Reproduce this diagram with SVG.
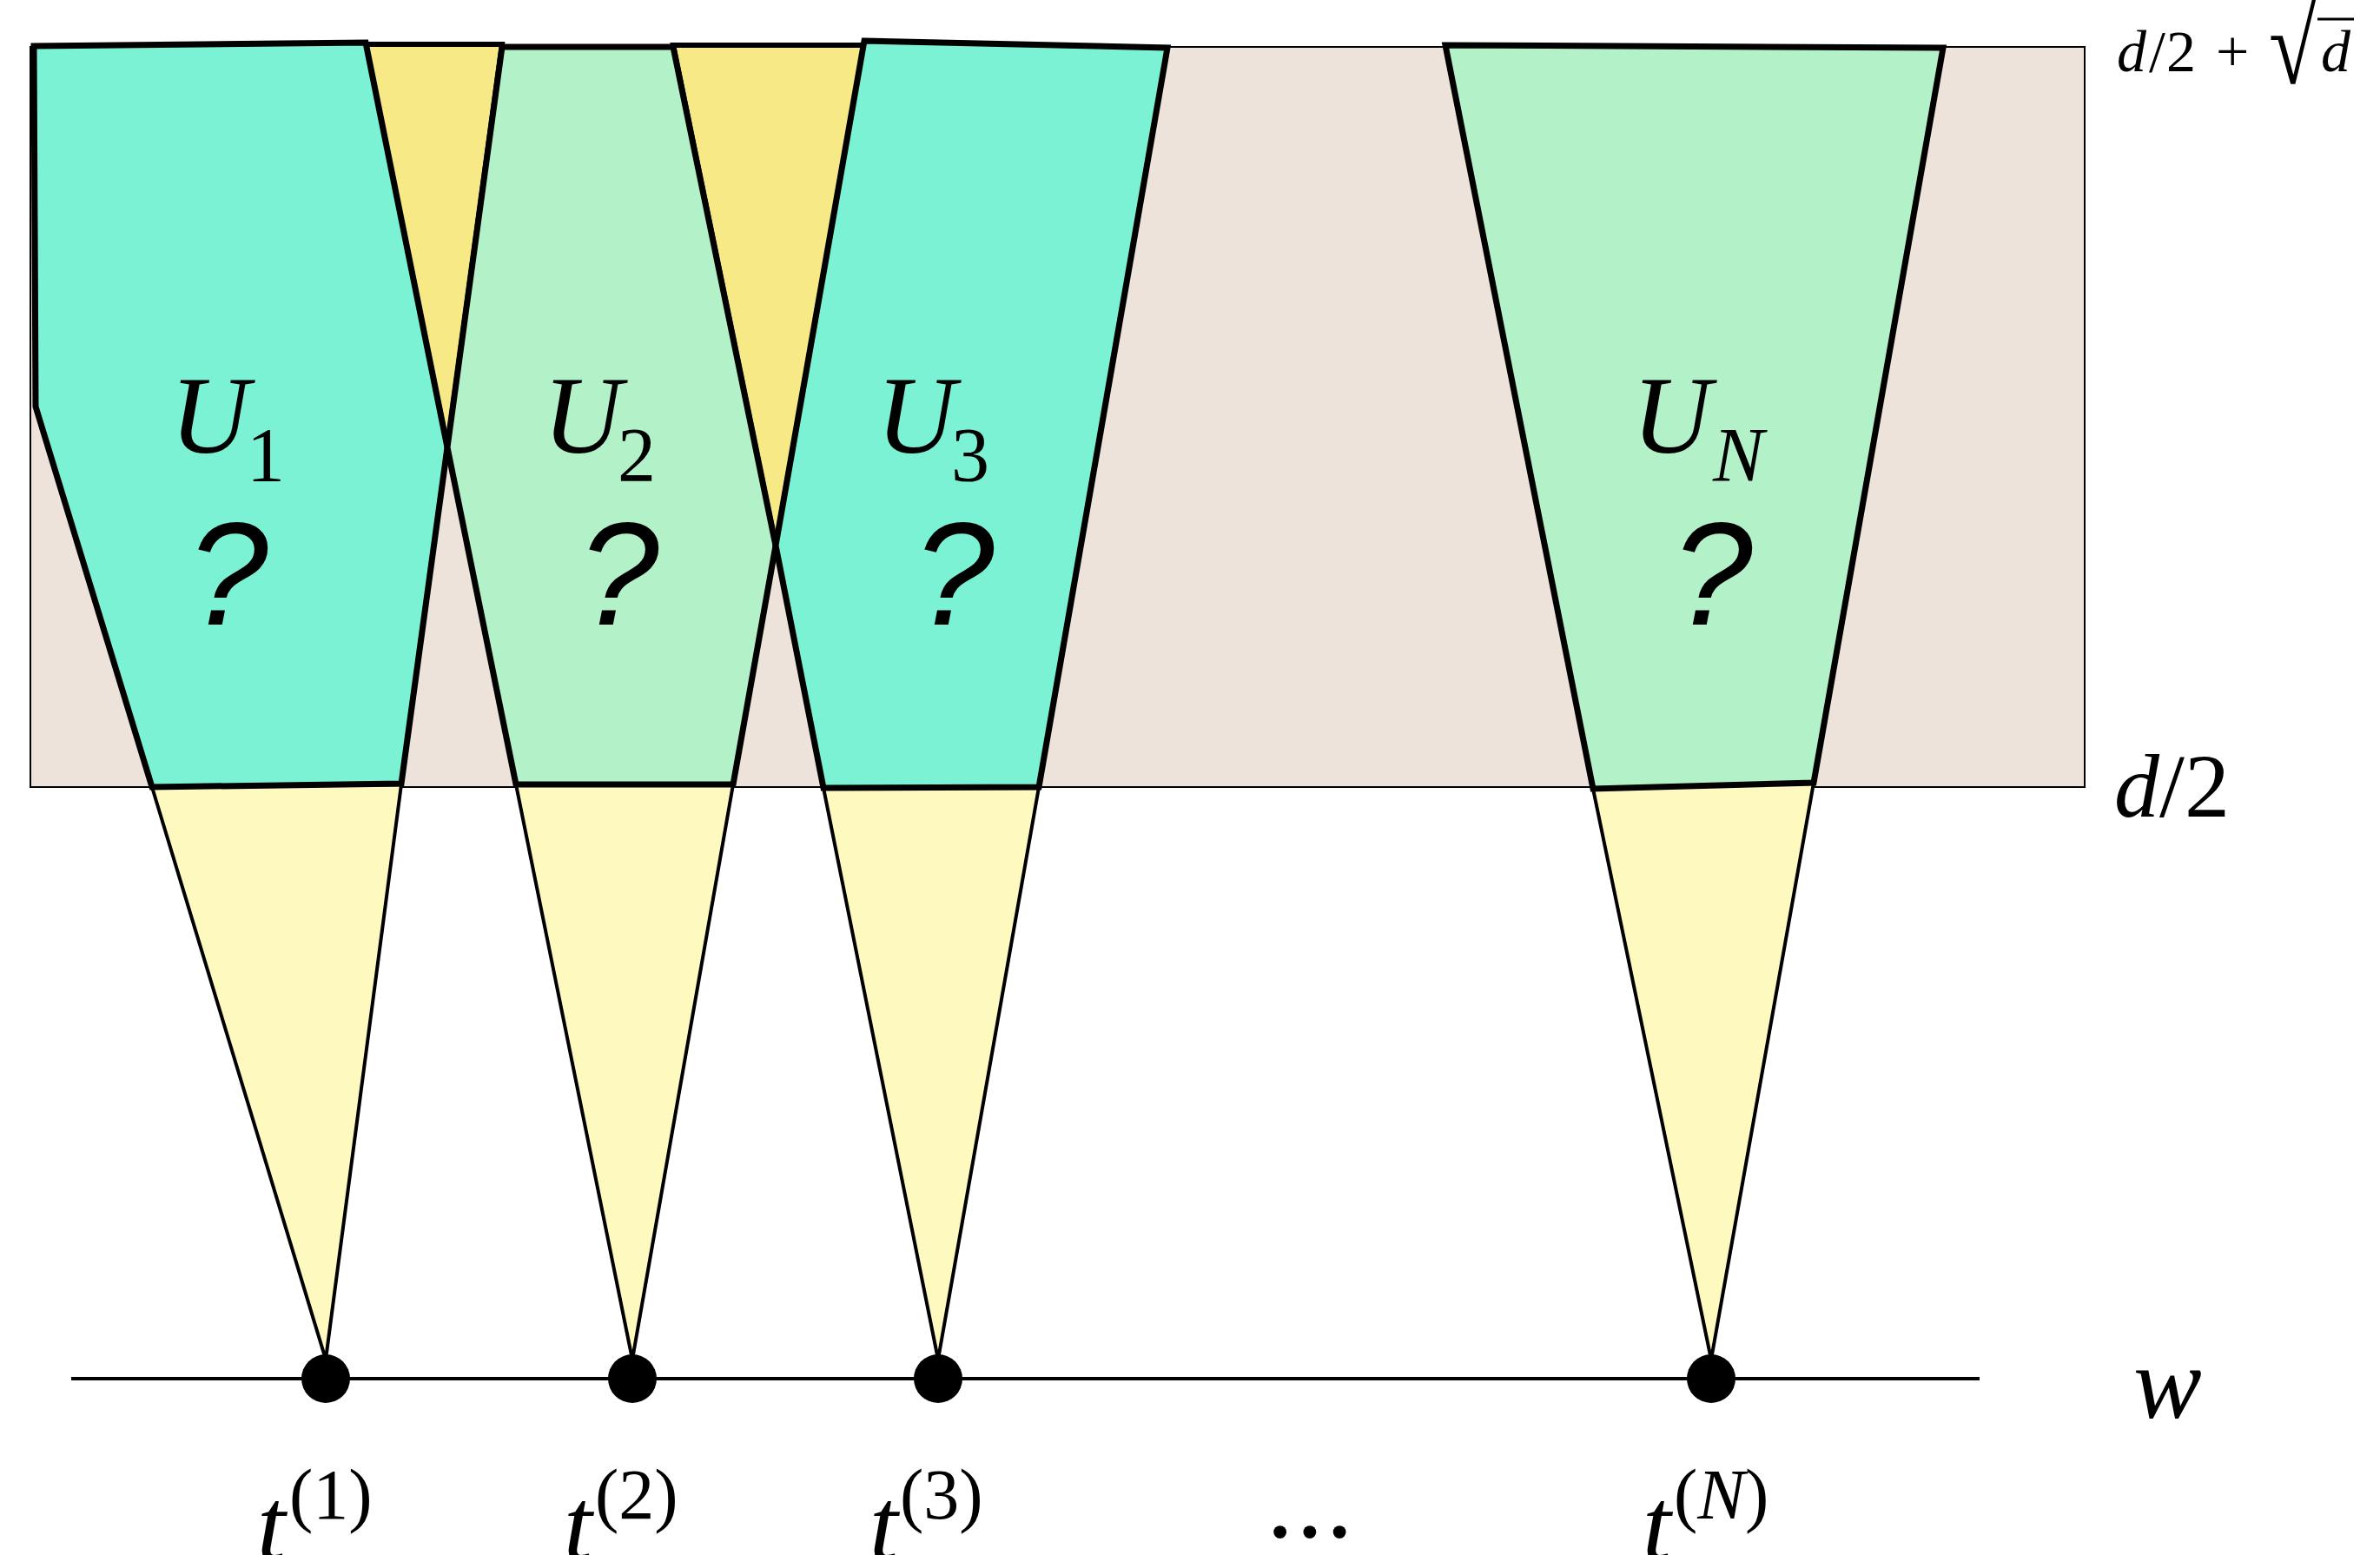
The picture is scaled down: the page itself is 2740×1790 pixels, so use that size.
<svg xmlns="http://www.w3.org/2000/svg" width="2740" height="1790" viewBox="0 0 2740 1790">
<style>
.band{fill:#ede3da;stroke:#000;stroke-width:2}
.cone{fill:#fef9bf;stroke:#000;stroke-width:4;stroke-linejoin:miter}
.overlap{fill:#f7ea86;stroke:#000;stroke-width:6;stroke-linejoin:miter}
.ucyan{fill:#7cf2d5;stroke:#000;stroke-width:7;stroke-linejoin:miter}
.ugreen{fill:#b3f2c9;stroke:#000;stroke-width:7;stroke-linejoin:miter}
.dot{fill:#000}
.axis{stroke:#000;stroke-width:4;fill:none}
.m{font-family:"Liberation Serif","Times New Roman",serif;fill:#000}
.it{font-style:italic}
.q{font-family:"Liberation Sans",Arial,sans-serif;font-style:italic;fill:#000;font-size:168px;text-anchor:middle}
</style>
<rect id="band" class="band" x="35" y="54" width="2365" height="852"/>
<g id="cones">
<polygon class="cone" points="175,906 462,903 375,1565"/>
<polygon class="cone" points="594,903 844,903 728,1565"/>
<polygon class="cone" points="948,907 1196,906 1080,1565"/>
<polygon class="cone" points="1834,908 2088,901 1970,1565"/>
</g>
<g id="overlaps">
<polygon class="overlap" points="421,51 578,51 515,515"/>
<polygon class="overlap" points="775,52 995,52 893,628"/>
</g>
<g id="U1">
<polygon class="ucyan" points="39,53 421,49 515,515 462,902 175,906 41,468"/>
<text class="m it" x="196" y="521" font-size="126">U</text>
<text class="m" x="284" y="553" font-size="88">1</text>
<text class="q" x="262" y="719">?</text>
</g>
<g id="U2">
<polygon class="ugreen" points="578,54 775,54 893,628 844,903 594,903 515,515"/>
<text class="m it" x="625" y="521" font-size="126">U</text>
<text class="m" x="711" y="553" font-size="88">2</text>
<text class="q" x="712" y="719">?</text>
</g>
<g id="U3">
<polygon class="ucyan" points="995,47 1344,55 1196,906 948,907 893,628"/>
<text class="m it" x="1009" y="521" font-size="126">U</text>
<text class="m" x="1095" y="553" font-size="88">3</text>
<text class="q" x="1098" y="719">?</text>
</g>
<g id="UN">
<polygon class="ugreen" points="1664,52 2237,55 2088,901 1834,908"/>
<text class="m it" x="1879" y="521" font-size="126">U</text>
<text class="m it" x="1972" y="553" font-size="88">N</text>
<text class="q" x="1971" y="719">?</text>
</g>
<g id="axis">
<line class="axis" x1="82" y1="1587" x2="2279" y2="1587"/>
<circle class="dot" cx="375" cy="1587" r="28"/>
<circle class="dot" cx="728" cy="1587" r="28"/>
<circle class="dot" cx="1080" cy="1587" r="28"/>
<circle class="dot" cx="1970" cy="1587" r="28"/>
</g>
<g id="labels">
<text class="m" y="82" font-size="68"><tspan class="it" x="2437">d</tspan><tspan x="2474">/</tspan><tspan x="2494">2</tspan><tspan x="2551">+</tspan></text>
<text class="m" x="3265" y="96" font-size="125" transform="scale(0.8,1)">√</text>
<line x1="2668" y1="22" x2="2710" y2="22" stroke="#000" stroke-width="3"/>
<text class="m it" x="2672" y="82" font-size="68">d</text>
<text class="m" y="940" font-size="104"><tspan class="it" x="2434">d</tspan><tspan>/2</tspan></text>
<text class="m it" x="2456" y="1632" font-size="118">w</text>
<text class="m it" x="296" y="1795" font-size="118">t</text>
<text class="m" x="333" y="1748" font-size="82">(1)</text>
<text class="m it" x="649" y="1795" font-size="118">t</text>
<text class="m" x="685" y="1748" font-size="82">(2)</text>
<text class="m it" x="1001" y="1795" font-size="118">t</text>
<text class="m" x="1036" y="1748" font-size="82">(3)</text>
<text class="m it" x="1891" y="1795" font-size="118">t</text>
<text class="m" x="1927" y="1748" font-size="82">(<tspan class="it">N</tspan>)</text>
<text class="m" x="1458" y="1769" font-size="125" letter-spacing="3">...</text>
</g>
</svg>
